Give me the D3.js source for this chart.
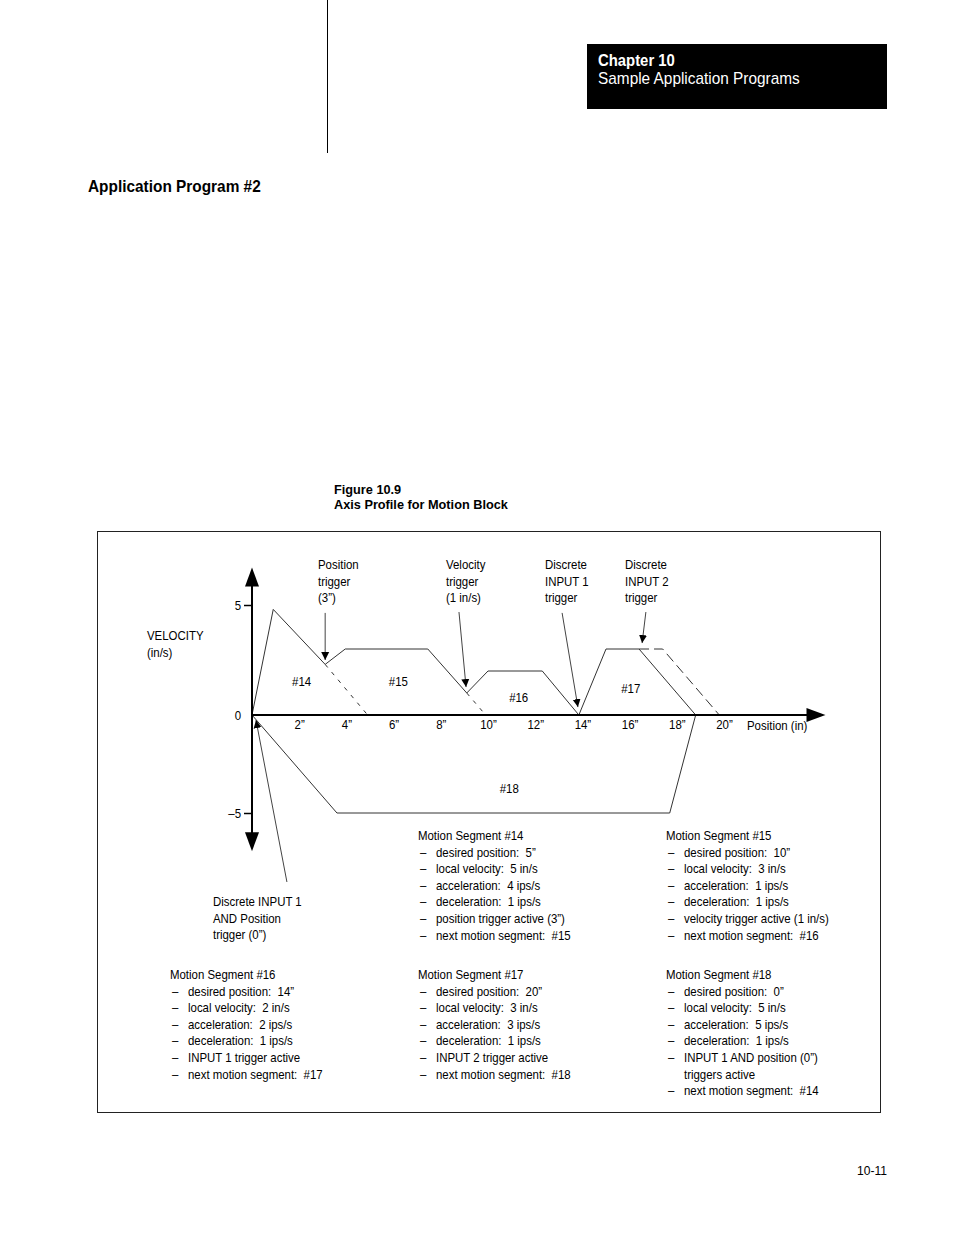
<!DOCTYPE html>
<html>
<head>
<meta charset="utf-8">
<script src="https://cdn.jsdelivr.net/npm/d3@7"></script>
<style>
  html, body { margin: 0; padding: 0; background: #fff; }
  svg { display: block; }
  text { font-family: "Liberation Sans", Arial, sans-serif; fill: #000; white-space: pre; }
</style>
</head>
<body>
<svg id="chart" width="954" height="1235"></svg>
<script>
// ---------- data ----------
const xTicks = [2, 4, 6, 8, 10, 12, 14, 16, 18, 20];
const yTicks = [-5, 0, 5];

// velocity profile (position in inches, velocity in in/s)
const seg14 = [[0, 0], [0.9, 4.8], [3.1, 2.3]];
const seg14Dash = [[3.1, 2.3], [4.9, 0]];
const seg15 = [[3.1, 2.3], [3.95, 3], [7.45, 3], [9.1, 1]];
const seg15Dash = [[9.1, 1], [9.9, 0]];
const seg16 = [[9.1, 1], [10, 2], [12.3, 2], [13.85, 0]];
const seg17 = [[13.85, 0], [15, 3], [16.4, 3], [18.8, 0]];
const seg17Dash = [[16.4, 3], [17.4, 3], [19.8, 0]];
const seg18 = [[0, 0], [3.6, -5], [17.7, -5], [18.8, 0]];

const segLabels = [
  { t: "#14", x: 2.1, v: 1.5 },
  { t: "#15", x: 6.2, v: 1.5 },
  { t: "#16", x: 11.3, v: 0.77 },
  { t: "#17", x: 16.05, v: 1.18 },
  { t: "#18", x: 10.9, v: -3.78 }
];

// trigger annotations: text lines, arrow from -> to (data coords)
const triggers = [
  { lines: ["Position", "trigger", "(3\u201D)"], from: [3.1, 4.64], to: [3.1, 2.5] },
  { lines: ["Velocity", "trigger", "(1 in/s)"], from: [8.77, 4.68], to: [9.07, 1.27] },
  { lines: ["Discrete", "INPUT 1", "trigger"], from: [13.14, 4.64], to: [13.81, 0.36] },
  { lines: ["Discrete", "INPUT 2", "trigger"], from: [16.69, 4.68], to: [16.53, 3.27] }
];
const bottomTrigger = { lines: ["Discrete INPUT 1", "AND Position", "trigger (0\u201D)"], from: [1.48, -8.52], to: [0.17, -0.26] };

const segment14 = ["Motion Segment #14", "desired position:  5\u201D", "local velocity:  5 in/s", "acceleration:  4 ips/s", "deceleration:  1 ips/s", "position trigger active (3\u201D)", "next motion segment:  #15"];
const segment15 = ["Motion Segment #15", "desired position:  10\u201D", "local velocity:  3 in/s", "acceleration:  1 ips/s", "deceleration:  1 ips/s", "velocity trigger active (1 in/s)", "next motion segment:  #16"];
const segment16 = ["Motion Segment #16", "desired position:  14\u201D", "local velocity:  2 in/s", "acceleration:  2 ips/s", "deceleration:  1 ips/s", "INPUT 1 trigger active", "next motion segment:  #17"];
const segment17 = ["Motion Segment #17", "desired position:  20\u201D", "local velocity:  3 in/s", "acceleration:  3 ips/s", "deceleration:  1 ips/s", "INPUT 2 trigger active", "next motion segment:  #18"];
const segment18 = ["Motion Segment #18", "desired position:  0\u201D", "local velocity:  5 in/s", "acceleration:  5 ips/s", "deceleration:  1 ips/s", "INPUT 1 AND position (0\u201D)", "+triggers active", "next motion segment:  #14"];

// ---------- drawing ----------
const svg = d3.select("#chart");
const x = d3.scaleLinear().domain([0, 20]).range([252, 724]);
const y = d3.scaleLinear().domain([-5, 0, 5]).range([813, 715, 605]);

const FS = 12.5, SX = 0.915; // body font size and horizontal condensing
function txt(px, py, s, opts = {}) {
  const size = opts.size || FS, k = opts.k || SX;
  const t = svg.append("text")
    .attr("transform", `translate(${px},${py}) scale(${k},1)`)
    .attr("font-size", size)
    .attr("xml:space", "preserve")
    .text(s);
  if (opts.bold) t.attr("font-weight", "bold");
  if (opts.anchor) t.attr("text-anchor", opts.anchor);
  if (opts.dy) t.attr("dy", opts.dy);
  if (opts.fill) t.style("fill", opts.fill);
  return t;
}

// page header
svg.append("line").attr("x1", 327.5).attr("x2", 327.5).attr("y1", 0).attr("y2", 153)
  .attr("stroke", "#000").attr("stroke-width", 1);
svg.append("rect").attr("x", 587).attr("y", 44).attr("width", 300).attr("height", 65).attr("fill", "#000");
txt(598, 66, "Chapter 10", { size: 16, k: 0.93, bold: true, fill: "#fff" });
txt(598, 84, "Sample Application Programs", { size: 16, k: 0.962, fill: "#fff" });
txt(88, 192, "Application Program #2", { size: 16, k: 0.963, bold: true });
txt(334, 494, "Figure 10.9", { size: 13.5, k: 0.943, bold: true });
txt(334, 509, "Axis Profile for Motion Block", { size: 13.5, k: 0.943, bold: true });
txt(887, 1175, "10-11", { size: 13, k: 0.93, anchor: "end" });

// figure frame
svg.append("rect").attr("x", 97.5).attr("y", 531.5).attr("width", 783).attr("height", 581)
  .attr("fill", "none").attr("stroke", "#222").attr("stroke-width", 1);

const defs = svg.append("defs");
defs.append("marker").attr("id", "ah").attr("viewBox", "0 0 10 10").attr("refX", 10).attr("refY", 5)
  .attr("markerUnits", "userSpaceOnUse").attr("markerWidth", 8).attr("markerHeight", 13)
  .attr("orient", "auto")
  .append("path").attr("d", "M0,0 L10,5 L0,10 Z").attr("fill", "#000");

const line = d3.line().x(d => x(d[0])).y(d => y(d[1]));

// profile
[seg14, seg15, seg16, seg17, seg18].forEach(s => {
  svg.append("path").attr("d", line(s)).attr("fill", "none").attr("stroke", "#333").attr("stroke-width", 1);
});
[seg14Dash, seg15Dash].forEach(s => {
  svg.append("path").attr("d", line(s)).attr("fill", "none").attr("stroke", "#333").attr("stroke-width", 1)
    .attr("stroke-dasharray", "4,6");
});
svg.append("path").attr("d", line(seg17Dash)).attr("fill", "none").attr("stroke", "#333").attr("stroke-width", 1)
  .attr("stroke-dasharray", "10,5");

// axes
const xAxisEnd = 24.3, yTop = 6.7, yBottom = -6.95;
svg.append("line").attr("x1", x(0)).attr("x2", x(xAxisEnd) - 16).attr("y1", y(0)).attr("y2", y(0))
  .attr("stroke", "#000").attr("stroke-width", 2);
svg.append("line").attr("x1", x(0)).attr("x2", x(0)).attr("y1", y(yTop) + 16).attr("y2", y(yBottom) - 16)
  .attr("stroke", "#000").attr("stroke-width", 2);
const tri = (tx, ty, dir) => {
  const L = 19, W = 7;
  if (dir === "up") return `M${tx},${ty} L${tx - W},${ty + L} L${tx + W},${ty + L} Z`;
  if (dir === "down") return `M${tx},${ty} L${tx - W},${ty - L} L${tx + W},${ty - L} Z`;
  return `M${tx},${ty} L${tx - L},${ty - W} L${tx - L},${ty + W} Z`;
};
svg.append("path").attr("d", tri(x(0), y(yTop), "up")).attr("fill", "#000");
svg.append("path").attr("d", tri(x(0), y(yBottom), "down")).attr("fill", "#000");
svg.append("path").attr("d", tri(x(xAxisEnd), y(0), "right")).attr("fill", "#000");

const xAxis = d3.axisBottom(x).tickValues(xTicks).tickSize(0).tickPadding(5)
  .tickFormat(d => d + "\u201D");
const gx = svg.append("g").attr("transform", `translate(0,${y(0)})`).call(xAxis);
gx.select(".domain").remove();
gx.selectAll("text").attr("font-size", FS).attr("font-family", null).style("fill", "#000")
  .attr("transform", `scale(${SX},1)`);

const yAxis = d3.axisLeft(y).tickValues(yTicks).tickSize(8).tickPadding(4)
  .tickFormat(d => d < 0 ? "\u2013" + Math.abs(d) : d);
const gy = svg.append("g").attr("transform", `translate(${x(0)},0)`).call(yAxis);
gy.select(".domain").remove();
gy.selectAll("line").attr("stroke", "#000").attr("stroke-width", 1.5);
gy.selectAll(".tick").filter(d => d === 0).select("line").remove();
gy.selectAll("text").attr("font-size", FS).attr("font-family", null).style("fill", "#000")
  .attr("transform", `scale(${SX},1)`);

txt(747, y(0) + 15, "Position (in)");

// axis title
txt(147, 640, "VELOCITY");
txt(147, 657, "(in/s)");

// segment labels
segLabels.forEach(d => txt(x(d.x), y(d.v), d.t, { anchor: "middle", dy: "0.35em" }));

// trigger annotations
const tx0 = [318, 446, 545, 625];
triggers.forEach((t, i) => {
  t.lines.forEach((l, j) => txt(tx0[i], 569 + j * 16.5, l));
  svg.append("line").attr("x1", x(t.from[0])).attr("y1", y(t.from[1])).attr("x2", x(t.to[0])).attr("y2", y(t.to[1]))
    .attr("stroke", "#444").attr("stroke-width", 1).attr("marker-end", "url(#ah)");
});
bottomTrigger.lines.forEach((l, j) => txt(213, 906 + j * 16.5, l));
svg.append("line").attr("x1", x(bottomTrigger.from[0])).attr("y1", y(bottomTrigger.from[1]))
  .attr("x2", x(bottomTrigger.to[0])).attr("y2", y(bottomTrigger.to[1]))
  .attr("stroke", "#444").attr("stroke-width", 1).attr("marker-end", "url(#ah)");

// motion segment text blocks
function block(lines, bx, by) {
  lines.forEach((l, j) => {
    const yy = by + j * 16.6;
    if (j === 0) {
      txt(bx, yy, l);
    } else if (l.startsWith("+")) {
      txt(bx + 18, yy, l.slice(1));
    } else {
      txt(bx + 2, yy, "\u2013");
      txt(bx + 18, yy, l);
    }
  });
}
block(segment14, 418, 840);
block(segment15, 666, 840);
block(segment16, 170, 979);
block(segment17, 418, 979);
block(segment18, 666, 979);
</script>
</body>
</html>
